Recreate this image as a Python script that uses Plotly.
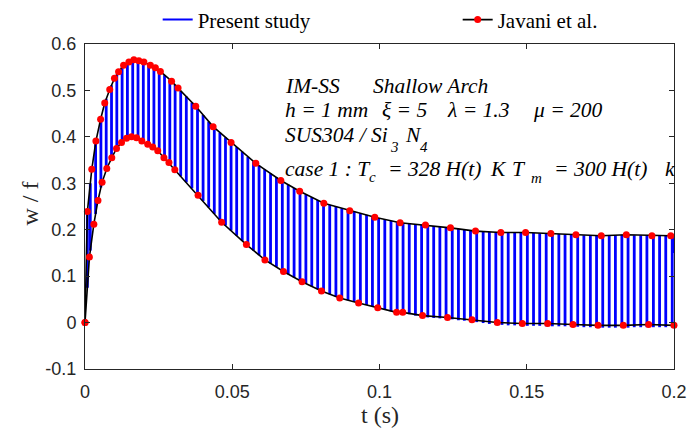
import plotly.graph_objects as go

# ---- Javani et al. envelopes (red markers on black lines) ----
upper_t = [0, 0.0008, 0.0023, 0.0037, 0.0053, 0.0067, 0.0084, 0.0100, 0.0114, 0.0131,
           0.0149, 0.0166, 0.0183, 0.0200, 0.0222, 0.0239, 0.0256, 0.0294, 0.0316, 0.0376,
           0.0435, 0.0496, 0.0580, 0.0665, 0.0729, 0.0811, 0.0899, 0.0984, 0.1070, 0.1156,
           0.1241, 0.1326, 0.1412, 0.1496, 0.1582, 0.1667, 0.1753, 0.1838, 0.1925, 0.1989]
upper_w = [0, 0.239, 0.330, 0.391, 0.438, 0.473, 0.502, 0.526, 0.540, 0.554,
           0.561, 0.566, 0.564, 0.561, 0.554, 0.549, 0.541, 0.520, 0.505, 0.466,
           0.422, 0.388, 0.343, 0.306, 0.283, 0.257, 0.241, 0.227, 0.215, 0.210,
           0.204, 0.197, 0.194, 0.194, 0.192, 0.189, 0.187, 0.189, 0.187, 0.187]

lower_t = [0, 0.0015, 0.0030, 0.0044, 0.0058, 0.0074, 0.0091, 0.0107, 0.0124, 0.0141,
           0.0158, 0.0175, 0.0193, 0.0213, 0.0230, 0.0247, 0.0268, 0.0285, 0.0305, 0.0384,
           0.0464, 0.0548, 0.0611, 0.0674, 0.0737, 0.0803, 0.0865, 0.0929, 0.0994, 0.1058,
           0.1079, 0.1146, 0.1231, 0.1314, 0.1400, 0.1485, 0.1571, 0.1657, 0.1742, 0.1828,
           0.1914, 0.2000]
lower_w = [0, 0.141, 0.212, 0.263, 0.302, 0.332, 0.355, 0.375, 0.388, 0.397,
           0.400, 0.398, 0.391, 0.384, 0.378, 0.370, 0.355, 0.345, 0.329, 0.274,
           0.216, 0.168, 0.135, 0.110, 0.088, 0.068, 0.053, 0.042, 0.032, 0.022,
           0.022, 0.015, 0.011, 0.006, 0.000, -0.002, -0.002, -0.004, -0.006, -0.006,
           -0.004, -0.006]

# ---- Present study: each swing of the oscillation (time, top, bottom) ----
blue_t = [0.0008, 0.0018, 0.0036, 0.0054, 0.0072, 0.0090, 0.0108, 0.0126, 0.0144, 0.0162,
          0.0180, 0.0198, 0.0216, 0.0234, 0.0252, 0.0270, 0.0288, 0.0306, 0.0325, 0.0344,
          0.0363, 0.0382, 0.0401, 0.0420, 0.0439, 0.0458, 0.0477, 0.0496, 0.0515, 0.0534,
          0.0553, 0.0572, 0.0591, 0.0610, 0.0630, 0.0650, 0.0670, 0.0690, 0.0710, 0.0730,
          0.0750, 0.0770, 0.0790, 0.0810, 0.0831, 0.0852, 0.0872, 0.0893, 0.0914, 0.0935,
          0.0956, 0.0976, 0.0997, 0.1018, 0.1039, 0.1060, 0.1080, 0.1101, 0.1122, 0.1143,
          0.1164, 0.1184, 0.1205, 0.1226, 0.1247, 0.1268, 0.1288, 0.1309, 0.1330, 0.1352,
          0.1373, 0.1395, 0.1416, 0.1437, 0.1459, 0.1480, 0.1502, 0.1523, 0.1544, 0.1566,
          0.1587, 0.1609, 0.1630, 0.1651, 0.1673, 0.1694, 0.1716, 0.1737, 0.1758, 0.1780,
          0.1801, 0.1823, 0.1844, 0.1865, 0.1887, 0.1908, 0.1930, 0.1951, 0.1972, 0.1994,
          0.2000]
blue_hi = [0.239, 0.300, 0.387, 0.440, 0.482, 0.511, 0.534, 0.550, 0.559, 0.565,
           0.564, 0.561, 0.556, 0.550, 0.543, 0.533, 0.523, 0.512, 0.499, 0.487,
           0.474, 0.462, 0.447, 0.433, 0.420, 0.409, 0.399, 0.388, 0.378, 0.368,
           0.357, 0.347, 0.338, 0.330, 0.321, 0.313, 0.304, 0.297, 0.290, 0.283,
           0.276, 0.270, 0.264, 0.257, 0.253, 0.250, 0.246, 0.242, 0.239, 0.235,
           0.232, 0.228, 0.225, 0.222, 0.219, 0.216, 0.214, 0.213, 0.212, 0.211,
           0.209, 0.208, 0.206, 0.205, 0.203, 0.202, 0.200, 0.199, 0.197, 0.196,
           0.195, 0.195, 0.194, 0.194, 0.194, 0.194, 0.193, 0.193, 0.192, 0.192,
           0.191, 0.191, 0.190, 0.190, 0.189, 0.188, 0.187, 0.187, 0.187, 0.188,
           0.188, 0.189, 0.189, 0.188, 0.188, 0.187, 0.187, 0.187, 0.187, 0.187,
           0.187]
blue_lo = [0.075, 0.155, 0.234, 0.291, 0.328, 0.354, 0.376, 0.389, 0.398, 0.400,
           0.396, 0.389, 0.383, 0.376, 0.366, 0.354, 0.343, 0.328, 0.315, 0.302,
           0.289, 0.275, 0.262, 0.248, 0.234, 0.220, 0.209, 0.198, 0.187, 0.176,
           0.165, 0.155, 0.145, 0.135, 0.127, 0.120, 0.112, 0.104, 0.097, 0.090,
           0.084, 0.078, 0.072, 0.066, 0.061, 0.056, 0.052, 0.048, 0.045, 0.041,
           0.038, 0.035, 0.031, 0.028, 0.024, 0.022, 0.020, 0.018, 0.015, 0.013,
           0.011, 0.010, 0.009, 0.008, 0.007, 0.005, 0.004, 0.002, 0.001, -0.001,
           -0.003, -0.004, -0.005, -0.006, -0.006, -0.007, -0.007, -0.007, -0.007, -0.008,
           -0.008, -0.008, -0.008, -0.009, -0.009, -0.010, -0.010, -0.011, -0.011, -0.011,
           -0.011, -0.011, -0.011, -0.010, -0.010, -0.010, -0.010, -0.010, -0.010, -0.010,
           0.150]

x_ticks = [0, 0.05, 0.1, 0.15, 0.2]
x_labels = ["0", "0.05", "0.1", "0.15", "0.2"]
y_ticks = [-0.1, 0, 0.1, 0.2, 0.3, 0.4, 0.5, 0.6]
y_labels = ["-0.1", "0", "0.1", "0.2", "0.3", "0.4", "0.5", "0.6"]

SERIF = "Liberation Serif"
SANS = "Liberation Sans"
BLUE = "#0000ff"

stroke_x, stroke_y = [], []
for t, hi, lo in zip(blue_t, blue_hi, blue_lo):
    stroke_x += [t, t, None]
    stroke_y += [lo, hi, None]

fig = go.Figure()
fig.add_trace(go.Scatter(
    x=stroke_x, y=stroke_y, mode="lines", name="Present study",
    line=dict(color=BLUE, width=2.8), connectgaps=False, showlegend=False,
))
# legend entry for the present study (thinner line sample)
fig.add_trace(go.Scatter(
    x=[None], y=[None], mode="lines", name="Present study",
    line=dict(color=BLUE, width=2), legendwidth=255,
))
fig.add_trace(go.Scatter(
    x=upper_t, y=upper_w, mode="lines+markers", name="Javani et al.",
    line=dict(color="black", width=1.6),
    marker=dict(color="#ff0000", size=7),
    cliponaxis=False,
))
fig.add_trace(go.Scatter(
    x=lower_t, y=lower_w, mode="lines+markers", name="Javani et al.",
    line=dict(color="black", width=1.6),
    marker=dict(color="#ff0000", size=7),
    showlegend=False, cliponaxis=False,
))

MAIN = 21.5
SUB = 15
# (text, x paper, y paper, font size)
pieces = [
    ("IM-SS", 0.337, 0.871, MAIN),
    ("Shallow Arch", 0.485, 0.871, MAIN),
    ("h = 1 mm", 0.337, 0.797, MAIN),
    ("\u03be = 5", 0.500, 0.797, MAIN),
    ("\u03bb = 1.3", 0.611, 0.797, MAIN),
    ("\u03bc = 200", 0.757, 0.797, MAIN),
    ("SUS304 / Si", 0.337, 0.7185, MAIN),
    ("3", 0.5150, 0.684, SUB),
    ("N", 0.5392, 0.7185, MAIN),
    ("4", 0.5649, 0.683, SUB),
    ("case 1 : T", 0.337, 0.6154, MAIN),
    ("c", 0.4780, 0.5923, SUB),
    ("= 328 H(t)", 0.5105, 0.6154, MAIN),
    ("K", 0.6837, 0.6154, MAIN),
    ("T", 0.7210, 0.6154, MAIN),
    ("m", 0.7540, 0.5862, SUB),
    ("= 300 H(t)", 0.7924, 0.6154, MAIN),
    ("k", 0.9808, 0.6154, MAIN),
]
annotations = []
for txt, xp, yp, fs in pieces:
    annotations.append(dict(
        text="<i>" + txt + "</i>", x=xp, y=yp, xref="paper", yref="paper",
        xanchor="left", yanchor="middle", showarrow=False,
        font=dict(family=SERIF, size=fs, color="black"),
    ))
# axis titles
annotations.append(dict(text="t (s)", x=0.5, y=-0.141, xref="paper", yref="paper",
                        xanchor="center", yanchor="middle", showarrow=False,
                        font=dict(family=SERIF, size=24, color="#262626")))
annotations.append(dict(text="w / f", x=-0.093, y=0.51, xref="paper", yref="paper",
                        xanchor="center", yanchor="middle", showarrow=False, textangle=-90,
                        font=dict(family=SERIF, size=24, color="#262626")))

axis_common = dict(
    showline=True, linecolor="#262626", linewidth=1, mirror="ticks",
    ticks="inside", ticklen=5, tickcolor="#262626", showgrid=False, zeroline=False,
    tickfont=dict(family=SANS, size=18, color="#262626"), automargin=False,
)

fig.update_layout(
    width=689, height=430,
    margin=dict(l=85, r=15, t=44, b=61, autoexpand=False),
    paper_bgcolor="white", plot_bgcolor="white",
    xaxis=dict(range=[0, 0.2], tickvals=x_ticks, ticktext=x_labels,
               ticklabelstandoff=6, **axis_common),
    yaxis=dict(range=[-0.1, 0.6], tickvals=y_ticks, ticktext=y_labels,
               ticklabelstandoff=4, **axis_common),
    legend=dict(orientation="h", yanchor="middle", y=1.074, xanchor="left", x=0.1234,
                font=dict(family=SERIF, size=21, color="black"),
                bgcolor="rgba(0,0,0,0)", borderwidth=0),
    annotations=annotations,
    showlegend=True,
)

fig.write_html("out.html")
